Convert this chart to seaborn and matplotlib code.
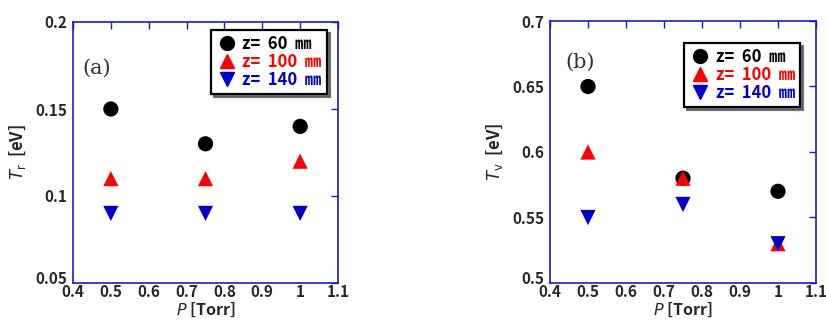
import matplotlib
matplotlib.use("Agg")
import matplotlib.pyplot as plt
import matplotlib.transforms as mtransforms
import seaborn as sns
import pandas as pd
from matplotlib.lines import Line2D

sns.set_theme(style="white")
plt.rcParams['font.family'] = ['Noto Sans CJK JP', 'DejaVu Sans']

pressure = [0.5, 0.75, 1.0]
series = ["z=  60  ㎜", "z=  100  ㎜", "z=  140  ㎜"]
tr_60 = [0.15, 0.13, 0.14]
tr_100 = [0.11, 0.11, 0.12]
tr_140 = [0.09, 0.09, 0.09]
tv_60 = [0.65, 0.58, 0.57]
tv_100 = [0.60, 0.58, 0.53]
tv_140 = [0.55, 0.56, 0.53]

colors = ["black", "red", "#0000cc"]
markers = ["o", "^", "v"]
axis_blue = "#1a1acc"

def make_df(a, b, c):
    rows = []
    for s, vals in zip(series, [a, b, c]):
        for p, v in zip(pressure, vals):
            rows.append({"P": p, "T": v, "series": s})
    return pd.DataFrame(rows)

fig = plt.figure(figsize=(8.26, 3.22), dpi=100)
W, H = 826, 322
bottom = 283
ax1 = fig.add_axes([73 / W, 1 - bottom / H, (338 - 73) / W, (bottom - 22) / H])
ax2 = fig.add_axes([550 / W, 1 - bottom / H, (816 - 550) / W, (bottom - 21) / H])

panels = [
    (ax1, make_df(tr_60, tr_100, tr_140), (0.05, 0.2), [0.05, 0.1, 0.15, 0.2],
     ["0.05", "0.1", "0.15", "0.2"], r"$T_{\mathrm{r}}$  [eV]", "(a)", (0.035, 0.80),
     (0.958, 0.97)),
    (ax2, make_df(tv_60, tv_100, tv_140), (0.5, 0.7), [0.5, 0.55, 0.6, 0.65, 0.7],
     ["0.5", "0.55", "0.6", "0.65", "0.7"], r"$T_{\mathrm{v}}$  [eV]", "(b)", (0.056, 0.82),
     (0.94, 0.917)),
]

for ax, df, ylim, yt, ytl, ylab, tag, tagpos, lgpos in panels:
    sns.scatterplot(data=df, x="P", y="T", hue="series", style="series",
                    palette=colors, markers=markers, hue_order=series,
                    style_order=series, s=120, edgecolor="none", ax=ax,
                    legend=False, zorder=3)
    ax.set_xlim(0.4, 1.1)
    ax.set_ylim(*ylim)
    xt = [0.4, 0.5, 0.6, 0.7, 0.8, 0.9, 1.0, 1.1]
    ax.set_xticks(xt)
    ax.set_xticklabels(["0.4", "0.5", "0.6", "0.7", "0.8", "0.9", "1", "1.1"],
                       fontweight="bold", fontsize=11)
    ax.set_yticks(yt)
    ax.set_yticklabels(ytl, fontweight="bold", fontsize=11)
    ax.tick_params(direction="in", length=5, width=1, color=axis_blue,
                   top=True, right=True)
    ax.tick_params(axis="x", pad=1)
    ax.tick_params(axis="y", pad=4)
    for sp in ax.spines.values():
        sp.set_color(axis_blue)
        sp.set_linewidth(1.2)
    # nudge the lowest y tick label up so it clears the first x tick label
    lab0 = ax.get_yticklabels()[0]
    lab0.set_transform(lab0.get_transform() +
                       mtransforms.ScaledTranslation(0, 6 / 100, fig.dpi_scale_trans))
    ax.set_xlabel(r"$P$ [Torr]", fontsize=11.5, fontweight="bold", labelpad=0)
    ax.set_ylabel(ylab, fontsize=12, fontweight="bold", labelpad=5)
    ax.text(tagpos[0], tagpos[1], tag, transform=ax.transAxes, fontsize=15,
            family="DejaVu Serif", color="#333333")
    handles = [Line2D([], [], marker=m, color=c, linestyle="none", markersize=10)
               for m, c in zip(markers, colors)]
    leg = ax.legend(handles, series, loc="upper right",
                    bbox_to_anchor=lgpos,
                    frameon=True, fancybox=False,
                    shadow={'color': '#555555', 'alpha': 0.8, 'ox': 2, 'oy': -2},
                    edgecolor="black", framealpha=1, handletextpad=0.3,
                    borderpad=0.3, labelspacing=0.0, handlelength=1.3,
                    borderaxespad=0,
                    prop={"weight": "bold", "size": 12})
    leg.get_frame().set_linewidth(1.6)
    for t, c in zip(leg.get_texts(), colors):
        t.set_color(c)

fig.savefig("out.png", dpi=100)
